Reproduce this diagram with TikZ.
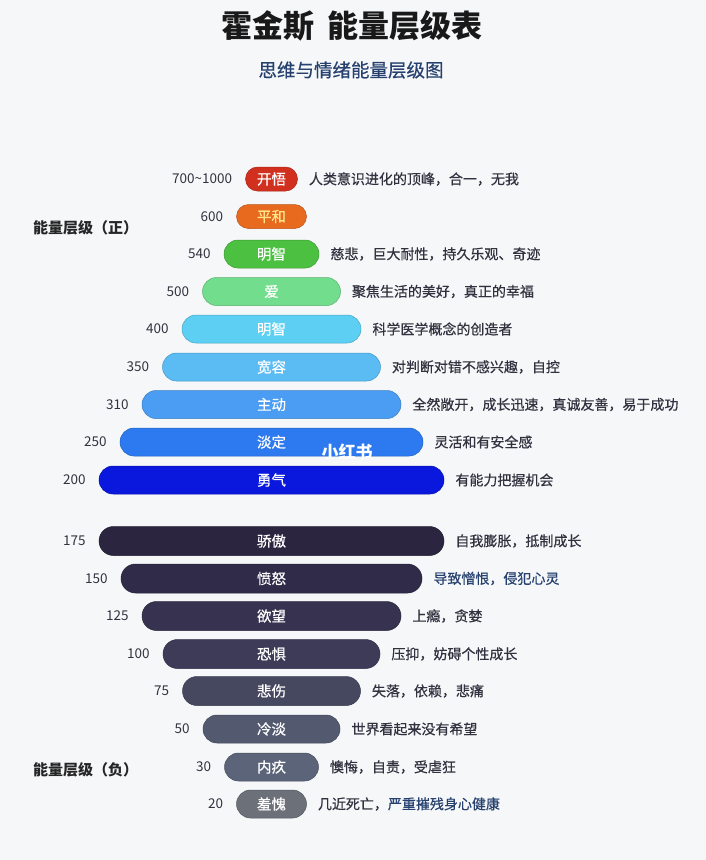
\documentclass[tikz,border=0pt]{standalone}
\usepackage{fontspec}
\usetikzlibrary{shapes.misc}
\setmainfont{Noto Sans CJK SC}
\newfontfamily\medfont[FakeBold=0.5]{Noto Sans CJK SC}
\definecolor{bg}{HTML}{F6F7F9}
\definecolor{ink}{HTML}{30333F}
\definecolor{navy}{HTML}{26416F}
\definecolor{cA}{HTML}{D2301F}
\definecolor{cB}{HTML}{E86A1E}
\definecolor{cC}{HTML}{4CC040}
\definecolor{cD}{HTML}{72DD8C}
\definecolor{cE}{HTML}{5CCFF2}
\definecolor{cF}{HTML}{5ABCF2}
\definecolor{cG}{HTML}{4A9DF2}
\definecolor{cH}{HTML}{2D7AF0}
\definecolor{cI}{HTML}{0A17DC}
\definecolor{dA}{HTML}{2B2540}
\definecolor{dB}{HTML}{302B48}
\definecolor{dC}{HTML}{36324F}
\definecolor{dD}{HTML}{3D3B58}
\definecolor{dE}{HTML}{46485F}
\definecolor{dF}{HTML}{53596E}
\definecolor{dG}{HTML}{5B6479}
\definecolor{dH}{HTML}{6B7079}
\definecolor{peace}{HTML}{FFE58A}
\tikzset{
  bar/.style={rounded rectangle, inner sep=0pt, text=white, font=\medfont\fontsize{14.5}{16}\selectfont},
  num/.style={inner sep=0pt, text=ink, font=\fontsize{13.5}{15}\selectfont},
  desc/.style={inner sep=0pt, text=ink, font=\medfont\fontsize{14}{16}\selectfont},
  side/.style={inner sep=0pt, text=black!85, font=\fontsize{15}{17}\selectfont\bfseries}
}
% #1 name, #2 y, #3 width, #4 height, #5 colour, #6 label, #7 number, #8 description
\newcommand{\lvlrow}[8]{%
  \node[bar, minimum width=#3pt, minimum height=#4pt,
        fill=#5, draw=#5!80!black, line width=0.5pt] (#1) at (271.5,#2) {#6};
  \node[num, anchor=east] (#1n) at ([xshift=-13pt]#1.west) {#7};
  \node[desc, anchor=west] (#1d) at ([xshift=11pt]#1.east) {#8};
}
\begin{document}
\begin{tikzpicture}[x=1pt,y=-1pt]
\useasboundingbox (0,0) rectangle (706,860);
\fill[bg] (0,0) rectangle (706,860);
\node[inner sep=0pt, font=\fontsize{31}{34}\selectfont\bfseries, text=black!90] (title) at (352,26) {霍金斯\hspace{0.4em}能量层级表};
\node[inner sep=0pt, font=\medfont\fontsize{18.5}{20}\selectfont, text=navy] (subtitle) at (351,70) {思维与情绪能量层级图};
\node[side, anchor=west] (pos) at (33,228) {能量层级（正）};
\node[side, anchor=west] (neg) at (33,770) {能量层级（负）};
% upper levels
\lvlrow{kw}{179}{52}{24}{cA}{开悟}{700\textasciitilde1000}{人类意识进化的顶峰，合一，无我}
\lvlrow{ph}{216.5}{70}{24}{cB}{\textcolor{peace}{平和}}{600}{}
\lvlrow{mz}{254}{95}{28}{cC}{明智}{540}{慈悲，巨大耐性，持久乐观、奇迹}
\lvlrow{ai}{291.5}{138}{28}{cD}{爱}{500}{聚焦生活的美好，真正的幸福}
\lvlrow{mzb}{329}{179}{28}{cE}{明智}{400}{科学医学概念的创造者}
\lvlrow{kr}{367}{218}{28}{cF}{宽容}{350}{对判断对错不感兴趣，自控}
\lvlrow{zd}{404.5}{259}{28}{cG}{主动}{310}{全然敞开，成长迅速，真诚友善，易于成功}
\lvlrow{dd}{442}{303}{28}{cH}{淡定}{250}{灵活和有安全感}
\lvlrow{yq}{480}{345}{28}{cI}{勇气}{200}{有能力把握机会}
% lower levels
\lvlrow{ja}{541}{345}{29}{dA}{骄傲}{175}{自我膨胀，抵制成长}
\lvlrow{fn}{578.5}{301}{29}{dB}{愤怒}{150}{\textcolor{navy}{导致憎恨，侵犯心灵}}
\lvlrow{yw}{616}{259}{29}{dC}{欲望}{125}{上瘾，贪婪}
\lvlrow{kj}{654}{217}{29}{dD}{恐惧}{100}{压抑，妨碍个性成长}
\lvlrow{bs}{691}{178}{29}{dE}{悲伤}{75}{失落，依赖，悲痛}
\lvlrow{ld}{729}{137}{28}{dF}{冷淡}{50}{世界看起来没有希望}
\lvlrow{nj}{767}{94}{28}{dG}{内疚}{30}{懊悔，自责，受虐狂}
\lvlrow{xk}{804}{70}{28}{dH}{羞愧}{20}{几近死亡，\textcolor{navy}{严重摧残身心健康}}
% watermark
\node[inner sep=0pt, text=white, font=\fontsize{17}{18}\selectfont\bfseries] (wm) at (347,452) {小红书};
\end{tikzpicture}
\end{document}
